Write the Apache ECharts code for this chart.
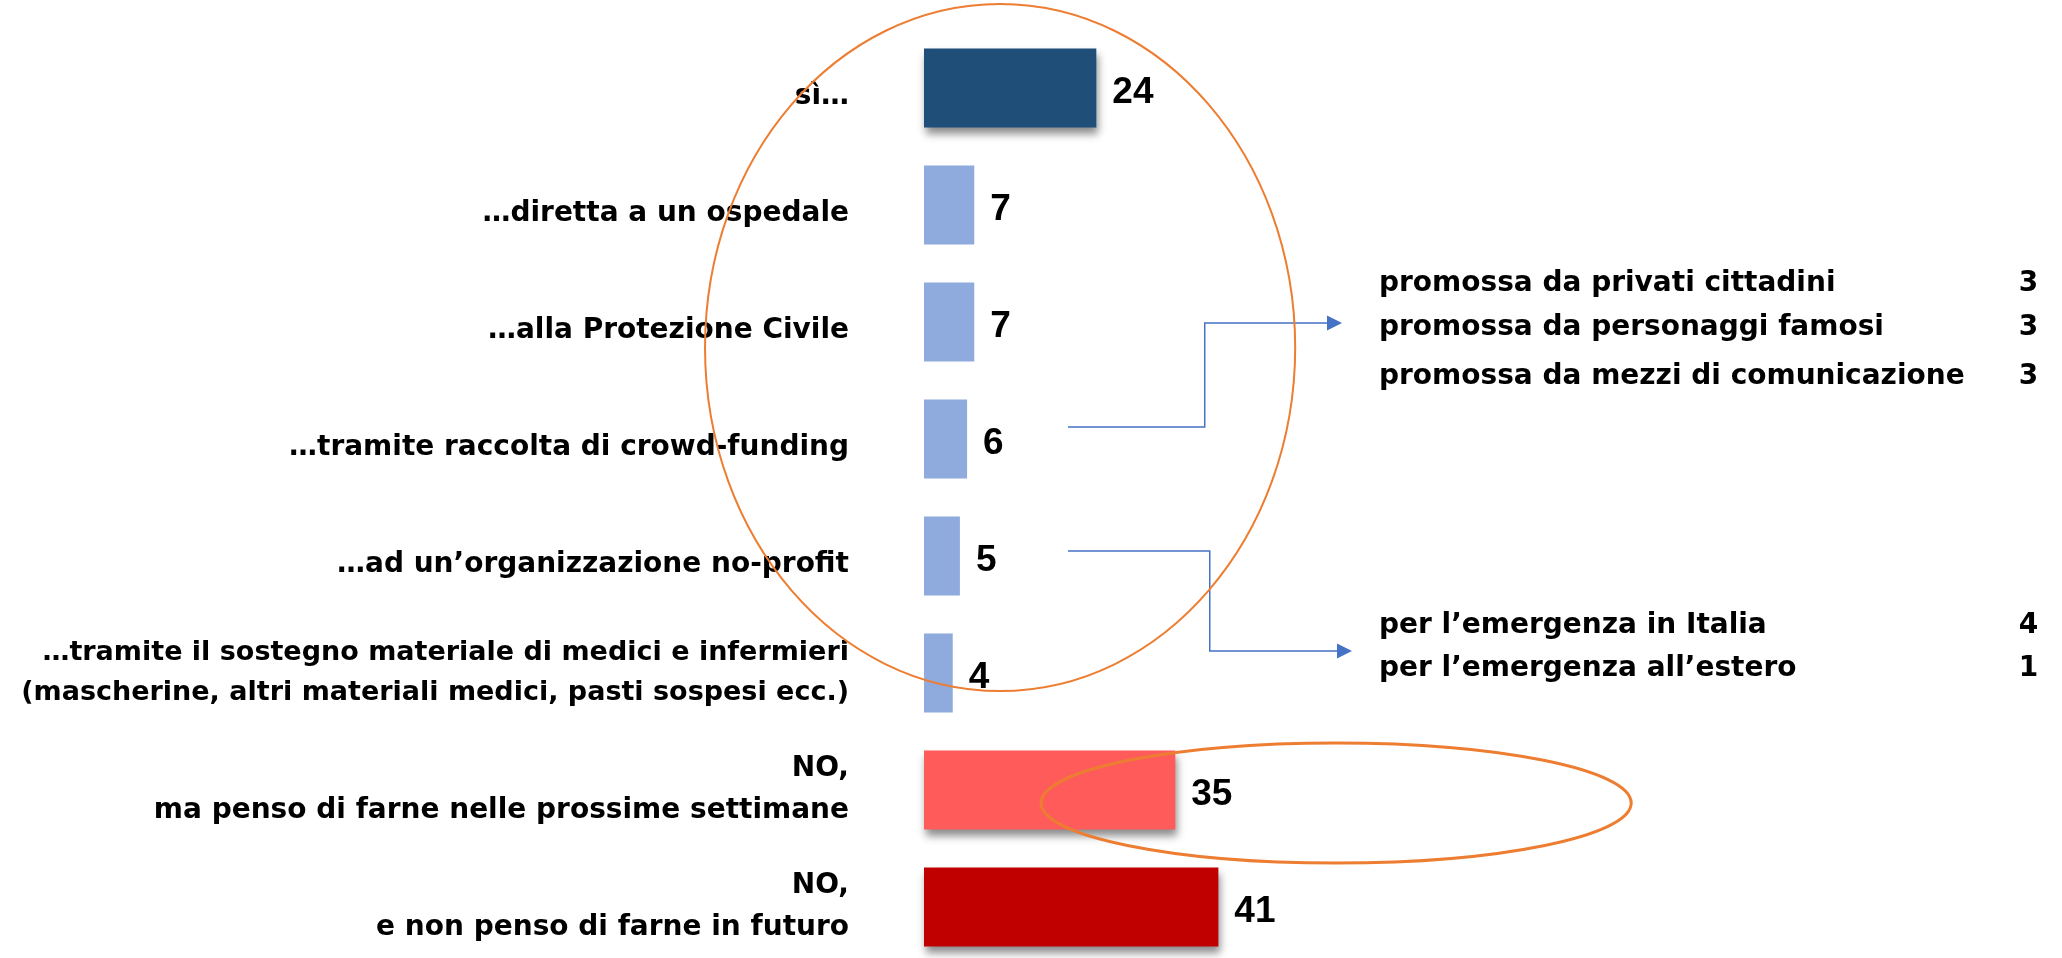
<!DOCTYPE html>
<html><head><meta charset="utf-8">
<script src="https://cdn.jsdelivr.net/npm/echarts@6/dist/echarts.min.js"></script>
<style>html,body{margin:0;padding:0;background:#fff}#c{width:2062px;height:958px}</style>
</head><body><div id="c"></div>
<script>
// ---- data ----
const categories = [
  'sì…',
  '…diretta a un ospedale',
  '…alla Protezione Civile',
  '…tramite raccolta di crowd-funding',
  '…ad un’organizzazione no-profit',
  '…tramite il sostegno materiale di medici e infermieri\n(mascherine, altri materiali medici, pasti sospesi ecc.)',
  'NO,\nma penso di farne nelle prossime settimane',
  'NO,\ne non penso di farne in futuro'
];
const values = [24, 7, 7, 6, 5, 4, 35, 41];
const crowdLabels = ['promossa da privati cittadini', 'promossa da personaggi famosi', 'promossa da mezzi di comunicazione'];
const crowdValues = [3, 3, 3];
const noProfitLabels = ['per l’emergenza in Italia', 'per l’emergenza all’estero'];
const noProfitValues = [4, 1];

// ---- styles / layout ----
const barColors = ['#1F4E79', '#8FAADC', '#8FAADC', '#8FAADC', '#8FAADC', '#8FAADC', '#FF5B5B', '#C00000'];
const shadowed = [true, false, false, false, false, false, true, true];
const TXT = '"DejaVu Sans", sans-serif';
const NUM = '"Liberation Sans", Arial, sans-serif';

// annotation geometry in axis units (x: value axis, y: band units, 0 = top)
const breakdownRows = [
  {labels: crowdLabels, values: crowdValues, ys: [2.174, 2.55, 2.969]},
  {labels: noProfitLabels, values: noProfitValues, ys: [5.097, 5.465]}
];
const breakdownTextX = 63.37, breakdownNumX = 155.2;
const connectors = [
  {from: [20.06, 3.397], elbowX: 39.1, to: [58.22, 2.509]},
  {from: [20.06, 4.457], elbowX: 39.8, to: [59.61, 5.312]}
];
const ellipses = [
  {c: [10.6, 2.718], r: [41.1, 2.936], w: 2},
  {c: [57.4, 6.611], r: [41.1, 0.513], w: 3}
];

const textItems = [];
breakdownRows.forEach(g => g.labels.forEach((l, i) => textItems.push({label: l, value: g.values[i], y: g.ys[i]})));

const chart = echarts.init(document.getElementById('c'), null, {renderer: 'canvas'});
chart.setOption({
  animation: false,
  backgroundColor: '#fff',
  grid: {left: 924, right: 0, top: 29.5, height: 936, containLabel: false, outerBoundsMode: 'none'},
  xAxis: {type: 'value', min: 0, max: 158.5, show: false},
  yAxis: [
    {
      type: 'category', data: categories, inverse: true,
      axisLine: {show: false}, axisTick: {show: false}, splitLine: {show: false},
      axisLabel: {
        margin: 75, color: '#000', fontFamily: TXT, fontWeight: 'bold', fontSize: 28,
        lineHeight: 42, align: 'right',
        formatter: function (v, i) {
          if (i === 5) return v.split('\n').map(s => '{s|' + s + '}').join('\n');
          if (v.indexOf('\n') < 0) return '{gap| }\n' + v;
          return v;
        },
        rich: {
          s: {fontFamily: TXT, fontWeight: 'bold', fontSize: 27, lineHeight: 40, color: '#000'},
          gap: {fontSize: 4, lineHeight: 18}
        }
      }
    },
    {type: 'value', min: 0, max: 8, inverse: true, show: false}
  ],
  series: [
    {
      type: 'bar', yAxisIndex: 0, barWidth: 79, z: 2,
      data: values.map((v, i) => ({
        value: v,
        itemStyle: Object.assign({color: barColors[i]}, shadowed[i] ? {
          shadowColor: 'rgba(0,0,0,0.45)', shadowBlur: 8, shadowOffsetX: 2, shadowOffsetY: 6
        } : {})
      })),
      label: {
        show: true, position: 'right', distance: 16, offset: [0, 5], color: '#000',
        fontFamily: NUM, fontWeight: 'bold', fontSize: 37
      }
    },
    {
      type: 'custom', xAxisIndex: 0, yAxisIndex: 1, z: 5, silent: true,
      data: connectors.map(c => c.from),
      renderItem: function (params, api) {
        const c = connectors[params.dataIndex];
        const p0 = api.coord(c.from);
        const p1 = api.coord([c.elbowX, c.from[1]]);
        const p2 = api.coord([c.elbowX, c.to[1]]);
        const p3 = api.coord(c.to);
        return {type: 'group', children: [
          {type: 'polyline', shape: {points: [p0, p1, p2, [p3[0] - 12, p3[1]]]},
           style: {stroke: '#4472C4', lineWidth: 1.5, fill: null}},
          {type: 'polygon', shape: {points: [[p3[0] - 15, p3[1] - 7.5], [p3[0], p3[1]], [p3[0] - 15, p3[1] + 7.5]]},
           style: {fill: '#4472C4'}}
        ]};
      }
    },
    {
      type: 'custom', xAxisIndex: 0, yAxisIndex: 1, z: 4, silent: true,
      data: textItems.map(t => [breakdownTextX, t.y]),
      renderItem: function (params, api) {
        const t = textItems[params.dataIndex];
        const p = api.coord([breakdownTextX, t.y]);
        const q = api.coord([breakdownNumX, t.y]);
        return {type: 'group', children: [
          {type: 'text', style: {x: p[0], y: p[1], text: t.label, fill: '#000',
            font: 'bold 28px ' + TXT, align: 'left', verticalAlign: 'middle'}},
          {type: 'text', style: {x: q[0], y: q[1], text: String(t.value), fill: '#000',
            font: 'bold 28px ' + TXT, align: 'right', verticalAlign: 'middle'}}
        ]};
      }
    },
    {
      type: 'custom', xAxisIndex: 0, yAxisIndex: 1, z: 10, silent: true,
      data: ellipses.map(e => e.c),
      renderItem: function (params, api) {
        const e = ellipses[params.dataIndex];
        const p = api.coord(e.c);
        const rx = api.size([e.r[0], 0])[0];
        const ry = api.size([0, e.r[1]])[1];
        return {type: 'ellipse', shape: {cx: p[0], cy: p[1], rx: rx, ry: ry},
          style: {stroke: '#ED7D31', lineWidth: e.w, fill: null}};
      }
    }
  ]
});
</script>
</body></html>
